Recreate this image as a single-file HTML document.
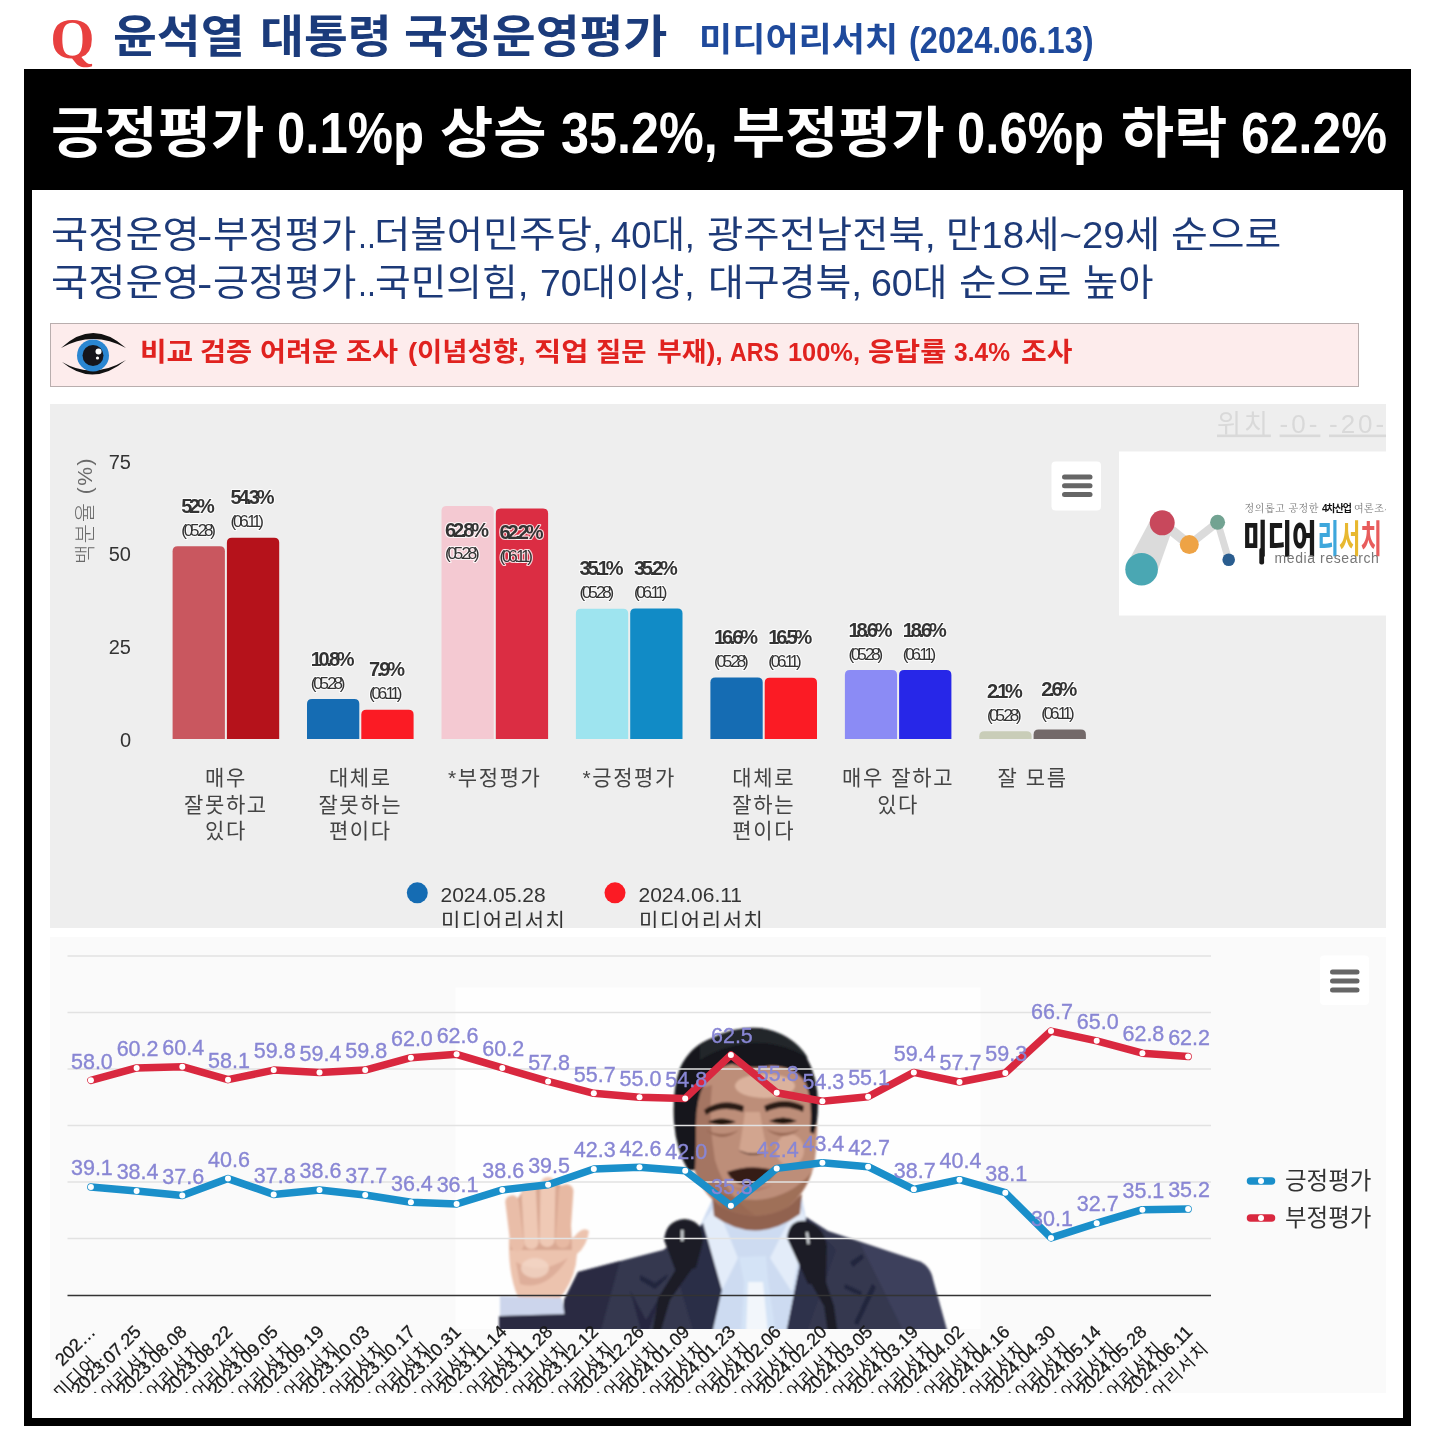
<!DOCTYPE html><html lang='ko'><head><meta charset='utf-8'><title>윤석열 대통령 국정운영평가</title><style>
html,body{margin:0;padding:0;background:#fff;}
body{width:1435px;height:1446px;position:relative;overflow:hidden;font-family:"Liberation Sans","Noto Sans CJK KR",sans-serif;}
.abs{position:absolute;white-space:nowrap;}
.w{position:absolute;top:0;transform-origin:0 0;white-space:nowrap;}
#frame{left:24px;top:69px;width:1387px;height:1357px;background:#000;}
#inner{left:32px;top:190px;width:1371px;height:1228px;background:#fff;}
#q{left:50.2px;top:8.5px;font-family:"Liberation Serif",serif;font-weight:700;font-size:57px;line-height:60px;color:#e8403f;}
#notice{left:50px;top:323px;width:1307px;height:62px;background:#fdecec;border:1px solid #b9aeae;}
#barpanel{left:50px;top:404px;width:1336px;height:524px;background:#eeeeee;overflow:hidden;}
#linepanel{left:50px;top:937px;width:1336px;height:456px;background:#fafafa;overflow:hidden;}
svg text{font-family:"Liberation Sans","Noto Sans CJK KR",sans-serif;}
</style></head><body>
<div id='frame' class='abs'></div><div id='inner' class='abs'></div>
<div id='q' class='abs'>Q</div>
<div id='title' class='abs' style='left:0;top:8.0px;width:1435px;font-family:"Liberation Sans","Noto Sans CJK KR",sans-serif;font-weight:700;font-size:45px;line-height:60px;color:#1b3b7b'><span class='w' style='left:113.18px;transform:scaleX(1.0588)'>윤석열</span> <span class='w' style='left:259.62px;transform:scaleX(1.0598)'>대통령</span> <span class='w' style='left:404.18px;transform:scaleX(1.06)'>국정운영평가</span></div>
<div id='src' class='abs' style='left:0;top:15.4px;width:1435px;font-family:"Liberation Sans","Noto Sans CJK KR",sans-serif;font-weight:700;font-size:33px;line-height:50px;color:#1f4a9c'><span class='w' style='left:699.12px;transform:scaleX(1.0932)'>미디어리서치</span> <span class='w' style='left:909.14px;font-size:37px;top:0.8px;transform:scaleX(0.8801)'>(2024.06.13)</span></div>
<div id='head' class='abs' style='left:0;top:92.5px;width:1435px;font-family:"Liberation Sans","Noto Sans CJK KR",sans-serif;font-weight:700;font-size:55px;line-height:80px;color:#fff'><span class='w' style='left:50.89px;transform:scaleX(1.0543)'>긍정평가</span> <span class='w' style='left:276.54px;font-size:58px;top:0.5px;transform:scaleX(0.8779)'>0.1%p</span> <span class='w' style='left:440.09px;transform:scaleX(1.0526)'>상승</span> <span class='w' style='left:561.37px;font-size:58px;top:0.5px;transform:scaleX(0.8674)'>35.2%,</span> <span class='w' style='left:731.7px;transform:scaleX(1.0503)'>부정평가</span> <span class='w' style='left:956.54px;font-size:58px;top:0.5px;transform:scaleX(0.8779)'>0.6%p</span> <span class='w' style='left:1120.6px;transform:scaleX(1.05)'>하락</span> <span class='w' style='left:1241.32px;font-size:58px;top:0.5px;transform:scaleX(0.8882)'>62.2%</span></div>
<div id='sub1' class='abs' style='left:0;top:208.1px;width:1435px;font-family:"Liberation Sans","Noto Sans CJK KR",sans-serif;font-weight:400;font-size:37px;line-height:56px;color:#1d3a78'><span class='w' style='left:50.61px;transform:scaleX(1.093)'>국정운영</span><span class='w' style='left:196.81px;transform:scaleX(1.2444)'>-</span><span class='w' style='left:213.49px;transform:scaleX(1.0534)'>부정평가</span><span class='w' style='left:357.89px;transform:scaleX(0.8714)'>..</span><span class='w' style='left:374.0px;transform:scaleX(1.0673)'>더불어민주당,</span> <span class='w' style='left:611.02px;transform:scaleX(0.9815)'>40대,</span> <span class='w' style='left:707.07px;transform:scaleX(1.066)'>광주전남전북,</span> <span class='w' style='left:945.88px;transform:scaleX(1.0387)'>만18세~29세</span> <span class='w' style='left:1171.14px;transform:scaleX(1.0796)'>순으로</span></div>
<div id='sub2' class='abs' style='left:0;top:256.2px;width:1435px;font-family:"Liberation Sans","Noto Sans CJK KR",sans-serif;font-weight:400;font-size:37px;line-height:56px;color:#1d3a78'><span class='w' style='left:50.61px;transform:scaleX(1.093)'>국정운영</span><span class='w' style='left:196.81px;transform:scaleX(1.2444)'>-</span><span class='w' style='left:213.49px;transform:scaleX(1.0534)'>긍정평가</span><span class='w' style='left:357.89px;transform:scaleX(0.8714)'>..</span><span class='w' style='left:375.1px;transform:scaleX(1.0475)'>국민의힘,</span> <span class='w' style='left:540.49px;transform:scaleX(1.0068)'>70대이상,</span> <span class='w' style='left:707.64px;transform:scaleX(1.0529)'>대구경북,</span> <span class='w' style='left:871.17px;transform:scaleX(1.0143)'>60대</span> <span class='w' style='left:959.0px;transform:scaleX(1.102)'>순으로</span> <span class='w' style='left:1083.13px;transform:scaleX(1.0354)'>높아</span></div>
<div id='notice' class='abs'></div>
<svg class='abs' style='left:58px;top:330px' width='72' height='50' viewBox='58 330 72 50'>
<path d='M61 348 Q93 318 126 348 Q93 330 61 348Z' fill='#111'/>
<path d='M62 362 Q93 388 126 360 Q93 380 62 362Z' fill='#111'/>
<circle cx='93' cy='355.5' r='16' fill='#2a86d1'/>
<circle cx='93' cy='355.5' r='10.5' fill='#16161c'/>
<circle cx='98.5' cy='351.5' r='3' fill='#fff'/>
<circle cx='97.5' cy='358' r='1.6' fill='#fff'/>
</svg>
<div id='ntext' class='abs' style='left:0;top:332px;width:1435px;font-family:"Liberation Sans","Noto Sans CJK KR",sans-serif;font-weight:700;font-size:26.5px;line-height:40px;color:#e0221f'><span class='w' style='left:139.52px;transform:scaleX(1.0913)'>비교</span> <span class='w' style='left:199.76px;transform:scaleX(1.0696)'>검증</span> <span class='w' style='left:260.04px;transform:scaleX(1.0648)'>어려운</span> <span class='w' style='left:346.33px;transform:scaleX(1.0681)'>조사</span> <span class='w' style='left:408.27px;transform:scaleX(1.0333)'>(이념성향,</span> <span class='w' style='left:534.17px;transform:scaleX(1.1159)'>직업</span> <span class='w' style='left:595.96px;transform:scaleX(1.0362)'>질문</span> <span class='w' style='left:656.89px;transform:scaleX(1.0129)'>부재),</span> <span class='w' style='left:730.23px;transform:scaleX(0.8722)'>ARS</span> <span class='w' style='left:788.38px;transform:scaleX(0.9577)'>100%,</span> <span class='w' style='left:867.63px;transform:scaleX(1.0704)'>응답률</span> <span class='w' style='left:954.27px;transform:scaleX(0.9271)'>3.4%</span> <span class='w' style='left:1020.95px;transform:scaleX(1.0532)'>조사</span></div>
<svg class='abs' id='barsvg' style='left:50px;top:404px' width='1336' height='524' viewBox='50 404 1336 524'>
<rect x='50' y='404' width='1336' height='524' fill='#eeeeee'/>
<text x='1217' y='432.5' font-size='26' fill='#d9d9d9' text-decoration='underline' style='letter-spacing:3px'>위치</text>
<text x='1279.6' y='432.5' font-size='26' fill='#d9d9d9' text-decoration='underline' style='letter-spacing:3px'>-0-</text>
<text x='1329' y='432.5' font-size='26' fill='#d9d9d9' text-decoration='underline' style='letter-spacing:3px'>-20-</text>
<text x='131' y='746.6' text-anchor='end' font-size='20' fill='#333'>0</text>
<text x='131' y='653.9' text-anchor='end' font-size='20' fill='#333'>25</text>
<text x='131' y='561.2' text-anchor='end' font-size='20' fill='#333'>50</text>
<text x='131' y='468.5' text-anchor='end' font-size='20' fill='#333'>75</text>
<text transform='translate(91.5,510.5) rotate(-90)' text-anchor='middle' font-size='21' font-weight='300' fill='#6a6a6a' style='letter-spacing:1.5px'>백분율 (%)</text>
<path d='M172.6 739.0 V551.2 Q172.6 546.2 177.6 546.2 H219.9 Q224.9 546.2 224.9 551.2 V739.0 Z' fill='#c9575f'/>
<path d='M226.9 739.0 V542.7 Q226.9 537.7 231.9 537.7 H274.2 Q279.2 537.7 279.2 542.7 V739.0 Z' fill='#b5121b'/>
<text x='225.9' y='785.3' text-anchor='middle' font-size='21' font-weight='400' fill='#444' style='letter-spacing:1.6px'>매우</text>
<text x='225.9' y='811.8' text-anchor='middle' font-size='21' font-weight='400' fill='#444' style='letter-spacing:1.6px'>잘못하고</text>
<text x='225.9' y='838.3' text-anchor='middle' font-size='21' font-weight='400' fill='#444' style='letter-spacing:1.6px'>있다</text>
<path d='M307.0 739.0 V704.0 Q307.0 699.0 312.0 699.0 H354.3 Q359.3 699.0 359.3 704.0 V739.0 Z' fill='#156cb3'/>
<path d='M361.3 739.0 V714.7 Q361.3 709.7 366.3 709.7 H408.6 Q413.6 709.7 413.6 714.7 V739.0 Z' fill='#fb1b24'/>
<text x='360.3' y='785.3' text-anchor='middle' font-size='21' font-weight='400' fill='#444' style='letter-spacing:1.6px'>대체로</text>
<text x='360.3' y='811.8' text-anchor='middle' font-size='21' font-weight='400' fill='#444' style='letter-spacing:1.6px'>잘못하는</text>
<text x='360.3' y='838.3' text-anchor='middle' font-size='21' font-weight='400' fill='#444' style='letter-spacing:1.6px'>편이다</text>
<path d='M441.5 739.0 V511.1 Q441.5 506.1 446.5 506.1 H488.8 Q493.8 506.1 493.8 511.1 V739.0 Z' fill='#f4c9d2'/>
<path d='M495.8 739.0 V513.4 Q495.8 508.4 500.8 508.4 H543.1 Q548.1 508.4 548.1 513.4 V739.0 Z' fill='#db2d43'/>
<text x='494.8' y='785.3' text-anchor='middle' font-size='21' font-weight='400' fill='#444' style='letter-spacing:1.6px'>*부정평가</text>
<path d='M575.9 739.0 V613.8 Q575.9 608.8 580.9 608.8 H623.2 Q628.2 608.8 628.2 613.8 V739.0 Z' fill='#9ee4ef'/>
<path d='M630.2 739.0 V613.5 Q630.2 608.5 635.2 608.5 H677.5 Q682.5 608.5 682.5 613.5 V739.0 Z' fill='#118bc6'/>
<text x='629.2' y='785.3' text-anchor='middle' font-size='21' font-weight='400' fill='#444' style='letter-spacing:1.6px'>*긍정평가</text>
<path d='M710.4 739.0 V682.4 Q710.4 677.4 715.4 677.4 H757.7 Q762.7 677.4 762.7 682.4 V739.0 Z' fill='#156cb3'/>
<path d='M764.7 739.0 V682.8 Q764.7 677.8 769.7 677.8 H812.0 Q817.0 677.8 817.0 682.8 V739.0 Z' fill='#fb1b24'/>
<text x='763.7' y='785.3' text-anchor='middle' font-size='21' font-weight='400' fill='#444' style='letter-spacing:1.6px'>대체로</text>
<text x='763.7' y='811.8' text-anchor='middle' font-size='21' font-weight='400' fill='#444' style='letter-spacing:1.6px'>잘하는</text>
<text x='763.7' y='838.3' text-anchor='middle' font-size='21' font-weight='400' fill='#444' style='letter-spacing:1.6px'>편이다</text>
<path d='M844.9 739.0 V675.0 Q844.9 670.0 849.9 670.0 H892.1 Q897.1 670.0 897.1 675.0 V739.0 Z' fill='#8b8bf5'/>
<path d='M899.1 739.0 V675.0 Q899.1 670.0 904.1 670.0 H946.4 Q951.4 670.0 951.4 675.0 V739.0 Z' fill='#2727e8'/>
<text x='898.1' y='785.3' text-anchor='middle' font-size='21' font-weight='400' fill='#444' style='letter-spacing:1.6px'>매우 잘하고</text>
<text x='898.1' y='811.8' text-anchor='middle' font-size='21' font-weight='400' fill='#444' style='letter-spacing:1.6px'>있다</text>
<path d='M979.3 739.0 V736.2 Q979.3 731.2 984.3 731.2 H1026.6 Q1031.6 731.2 1031.6 736.2 V739.0 Z' fill='#c9cdb8'/>
<path d='M1033.6 739.0 V734.4 Q1033.6 729.4 1038.6 729.4 H1080.9 Q1085.9 729.4 1085.9 734.4 V739.0 Z' fill='#736969'/>
<text x='1032.6' y='785.3' text-anchor='middle' font-size='21' font-weight='400' fill='#444' style='letter-spacing:1.6px'>잘 모름</text>
<text x='181.2' y='512.7' font-size='20' font-weight='700' fill='#333' stroke='#fff' stroke-opacity='0.8' stroke-width='2.2' stroke-linejoin='round' paint-order='stroke' style='letter-spacing:-3.2px'>52%</text><text x='181.2' y='535.8' font-size='17' fill='#333' stroke='#fff' stroke-opacity='0.8' stroke-width='2.2' stroke-linejoin='round' paint-order='stroke' style='letter-spacing:-3.2px'>(05.28)</text>
<text x='230.5' y='504.2' font-size='20' font-weight='700' fill='#333' stroke='#fff' stroke-opacity='0.8' stroke-width='2.2' stroke-linejoin='round' paint-order='stroke' style='letter-spacing:-3.2px'>54.3%</text><text x='230.5' y='527.3' font-size='17' fill='#333' stroke='#fff' stroke-opacity='0.8' stroke-width='2.2' stroke-linejoin='round' paint-order='stroke' style='letter-spacing:-3.2px'>(06.11)</text>
<text x='310.7' y='665.5' font-size='20' font-weight='700' fill='#333' stroke='#fff' stroke-opacity='0.8' stroke-width='2.2' stroke-linejoin='round' paint-order='stroke' style='letter-spacing:-3.2px'>10.8%</text><text x='310.7' y='688.6' font-size='17' fill='#333' stroke='#fff' stroke-opacity='0.8' stroke-width='2.2' stroke-linejoin='round' paint-order='stroke' style='letter-spacing:-3.2px'>(05.28)</text>
<text x='369.0' y='676.2' font-size='20' font-weight='700' fill='#333' stroke='#fff' stroke-opacity='0.8' stroke-width='2.2' stroke-linejoin='round' paint-order='stroke' style='letter-spacing:-3.2px'>7.9%</text><text x='369.0' y='699.3' font-size='17' fill='#333' stroke='#fff' stroke-opacity='0.8' stroke-width='2.2' stroke-linejoin='round' paint-order='stroke' style='letter-spacing:-3.2px'>(06.11)</text>
<text x='445.1' y='536.8' font-size='20' font-weight='700' fill='#333' stroke='#fff' stroke-opacity='0.8' stroke-width='2.2' stroke-linejoin='round' paint-order='stroke' style='letter-spacing:-3.2px'>62.8%</text><text x='445.1' y='559.3' font-size='17' fill='#333' stroke='#fff' stroke-opacity='0.8' stroke-width='2.2' stroke-linejoin='round' paint-order='stroke' style='letter-spacing:-3.2px'>(05.28)</text>
<text x='499.5' y='539.1' font-size='20' font-weight='700' fill='#333' stroke='#fff' stroke-opacity='0.8' stroke-width='2.2' stroke-linejoin='round' paint-order='stroke' style='letter-spacing:-3.2px'>62.2%</text><text x='499.5' y='561.6' font-size='17' fill='#333' stroke='#fff' stroke-opacity='0.8' stroke-width='2.2' stroke-linejoin='round' paint-order='stroke' style='letter-spacing:-3.2px'>(06.11)</text>
<text x='579.6' y='575.3' font-size='20' font-weight='700' fill='#333' stroke='#fff' stroke-opacity='0.8' stroke-width='2.2' stroke-linejoin='round' paint-order='stroke' style='letter-spacing:-3.2px'>35.1%</text><text x='579.6' y='598.4' font-size='17' fill='#333' stroke='#fff' stroke-opacity='0.8' stroke-width='2.2' stroke-linejoin='round' paint-order='stroke' style='letter-spacing:-3.2px'>(05.28)</text>
<text x='633.9' y='575.0' font-size='20' font-weight='700' fill='#333' stroke='#fff' stroke-opacity='0.8' stroke-width='2.2' stroke-linejoin='round' paint-order='stroke' style='letter-spacing:-3.2px'>35.2%</text><text x='633.9' y='598.1' font-size='17' fill='#333' stroke='#fff' stroke-opacity='0.8' stroke-width='2.2' stroke-linejoin='round' paint-order='stroke' style='letter-spacing:-3.2px'>(06.11)</text>
<text x='714.0' y='643.9' font-size='20' font-weight='700' fill='#333' stroke='#fff' stroke-opacity='0.8' stroke-width='2.2' stroke-linejoin='round' paint-order='stroke' style='letter-spacing:-3.2px'>16.6%</text><text x='714.0' y='667.0' font-size='17' fill='#333' stroke='#fff' stroke-opacity='0.8' stroke-width='2.2' stroke-linejoin='round' paint-order='stroke' style='letter-spacing:-3.2px'>(05.28)</text>
<text x='768.3' y='644.3' font-size='20' font-weight='700' fill='#333' stroke='#fff' stroke-opacity='0.8' stroke-width='2.2' stroke-linejoin='round' paint-order='stroke' style='letter-spacing:-3.2px'>16.5%</text><text x='768.3' y='667.4' font-size='17' fill='#333' stroke='#fff' stroke-opacity='0.8' stroke-width='2.2' stroke-linejoin='round' paint-order='stroke' style='letter-spacing:-3.2px'>(06.11)</text>
<text x='848.5' y='636.5' font-size='20' font-weight='700' fill='#333' stroke='#fff' stroke-opacity='0.8' stroke-width='2.2' stroke-linejoin='round' paint-order='stroke' style='letter-spacing:-3.2px'>18.6%</text><text x='848.5' y='659.6' font-size='17' fill='#333' stroke='#fff' stroke-opacity='0.8' stroke-width='2.2' stroke-linejoin='round' paint-order='stroke' style='letter-spacing:-3.2px'>(05.28)</text>
<text x='902.8' y='636.5' font-size='20' font-weight='700' fill='#333' stroke='#fff' stroke-opacity='0.8' stroke-width='2.2' stroke-linejoin='round' paint-order='stroke' style='letter-spacing:-3.2px'>18.6%</text><text x='902.8' y='659.6' font-size='17' fill='#333' stroke='#fff' stroke-opacity='0.8' stroke-width='2.2' stroke-linejoin='round' paint-order='stroke' style='letter-spacing:-3.2px'>(06.11)</text>
<text x='986.9' y='697.7' font-size='20' font-weight='700' fill='#333' stroke='#fff' stroke-opacity='0.8' stroke-width='2.2' stroke-linejoin='round' paint-order='stroke' style='letter-spacing:-3.2px'>2.1%</text><text x='986.9' y='720.8' font-size='17' fill='#333' stroke='#fff' stroke-opacity='0.8' stroke-width='2.2' stroke-linejoin='round' paint-order='stroke' style='letter-spacing:-3.2px'>(05.28)</text>
<text x='1041.2' y='695.9' font-size='20' font-weight='700' fill='#333' stroke='#fff' stroke-opacity='0.8' stroke-width='2.2' stroke-linejoin='round' paint-order='stroke' style='letter-spacing:-3.2px'>2.6%</text><text x='1041.2' y='719.0' font-size='17' fill='#333' stroke='#fff' stroke-opacity='0.8' stroke-width='2.2' stroke-linejoin='round' paint-order='stroke' style='letter-spacing:-3.2px'>(06.11)</text>
<circle cx='417.3' cy='892.8' r='10.5' fill='#156cb3'/><circle cx='615' cy='892.8' r='10.5' fill='#fb1b24'/>
<text x='440.5' y='902' font-size='21' fill='#333'>2024.05.28</text>
<text x='441.0' y='927.5' font-size='21' font-weight='400' fill='#333' style='letter-spacing:1.6px'>미디어리서치</text>
<text x='638.5' y='902' font-size='21' fill='#333'>2024.06.11</text>
<text x='639.0' y='927.5' font-size='21' font-weight='400' fill='#333' style='letter-spacing:1.6px'>미디어리서치</text>
<rect x='1051.5' y='461.5' width='49.5' height='49' rx='4' fill='#fff'/>
<line x1='1064.5' x2='1090' y1='477' y2='477' stroke='#666' stroke-width='5' stroke-linecap='round'/>
<line x1='1064.5' x2='1090' y1='485.7' y2='485.7' stroke='#666' stroke-width='5' stroke-linecap='round'/>
<line x1='1064.5' x2='1090' y1='494.4' y2='494.4' stroke='#666' stroke-width='5' stroke-linecap='round'/>
<rect x='1119' y='451.5' width='267.5' height='164' fill='#fff'/>
<g>
<path d='M1151.5 518 L1127.5 563 L1155.5 577 L1172.5 529 Z' fill='#dbdbdb'/>
<line x1='1162.2' y1='522.8' x2='1189.3' y2='544.6' stroke='#dbdbdb' stroke-width='10'/>
<line x1='1189.3' y1='544.6' x2='1217.6' y2='522.3' stroke='#dbdbdb' stroke-width='8'/>
<line x1='1217.6' y1='522.3' x2='1228.7' y2='559.7' stroke='#dbdbdb' stroke-width='7'/>
<circle cx='1162.2' cy='522.8' r='12.5' fill='#c8485c'/>
<circle cx='1141.6' cy='569.2' r='16.3' fill='#4aa7b3'/>
<circle cx='1189.3' cy='544.6' r='9.5' fill='#eea345'/>
<circle cx='1217.6' cy='522.3' r='7.5' fill='#72a392'/>
<circle cx='1228.7' cy='559.7' r='6.3' fill='#2a5d8f'/>
<text x='1244.5' y='512.3' font-size='10' fill='#777' style='font-family:"Liberation Serif","Noto Serif CJK SC","Noto Sans CJK KR",serif;letter-spacing:0.55px'>정의롭고 공정한 <tspan font-weight='700' fill='#111' style='font-family:"Liberation Sans","Noto Sans CJK KR",sans-serif;letter-spacing:-1.1px'>4차산업</tspan> 여론조사</text>
<text x='1243' y='552' font-size='38' font-weight='900' fill='#1a1a1a' textLength='73.5' lengthAdjust='spacingAndGlyphs'>미디어</text>
<text x='1317.5' y='552' font-size='38' font-weight='700' textLength='64.5' lengthAdjust='spacingAndGlyphs'><tspan fill='#3ea7dc'>리</tspan><tspan fill='#e8b830'>서</tspan><tspan fill='#e85c5c'>치</tspan></text>
<rect x='1259.3' y='548' width='4.8' height='16.5' rx='2' fill='#1a1a1a'/>
<text x='1274.5' y='562.5' font-size='14' fill='#777' style='letter-spacing:0.6px'>media research</text>
</g>
</svg>
<svg class='abs' id='linesvg' style='left:50px;top:937px' width='1336' height='456' viewBox='50 937 1336 456'>
<defs><filter id='bl2'><feGaussianBlur stdDeviation='2'/></filter><filter id='bl4'><feGaussianBlur stdDeviation='4'/></filter><filter id='bl1'><feGaussianBlur stdDeviation='1'/></filter></defs>
<rect x='50' y='937' width='1336' height='456' fill='#fafafa'/>
<g id="photo">
<clipPath id="pc"><rect x="455.5" y="987.5" width="525" height="341.5"/></clipPath>
<rect x="455.5" y="987.5" width="525" height="341.5" fill="#fefefe"/>
<g clip-path="url(#pc)">
<g filter="url(#bl1)">
 <!-- suit -->
 <path d="M561 1334 L564 1300 L578 1272 L663 1250 L703 1223 L756 1268 L806 1217 L828 1231 L921 1262 Q931 1268 933 1280 L948 1334 Z" fill="#34374f"/>
 <path d="M561 1334 L564 1300 L578 1272 L620 1261 L600 1334 Z" fill="#2a2c42"/>
 <path d="M860 1243 L921 1262 Q931 1268 933 1280 L948 1334 L905 1334 Z" fill="#3d405c"/>
 <path d="M640 1275 L655 1283 L668 1274 L666 1279 L655 1289 L640 1280 Z" fill="#23253c"/>
 <path d="M630 1290 L646 1320 L660 1296 L648 1334 L642 1334 Z" fill="#262840"/>
 <path d="M850 1262 L862 1254 L864 1258 L853 1267 Z M845 1284 L862 1292 L861 1296 L844 1288 Z" fill="#23253c"/>
 <path d="M872 1284 L876 1287 L858 1325 L854 1323 Z" fill="#23253c"/>
 <!-- shirt -->
 <path d="M700 1226 L712 1200 L802 1198 L806 1219 L800 1264 L786 1334 L711 1334 Z" fill="#cddbf1"/>
 <path d="M700 1226 L716 1204 L738 1258 L722 1290 Z" fill="#e3ecf9"/>
 <path d="M806 1219 L798 1202 L770 1258 L792 1292 Z" fill="#e3ecf9"/>
 <!-- tie -->
 <path d="M739 1257 L766 1256 L768 1280 L776 1334 L741 1334 L744 1282 Z" fill="#d4e3f6"/>
 <path d="M748 1282 L763 1282 L768 1334 L746 1334 Z" fill="#f2f6fb"/>
 <!-- lapels -->
 <path d="M703 1223 L722 1290 L712 1334 L694 1334 L672 1258 Z" fill="#2b2d47"/>
 <path d="M806 1217 L800 1264 L786 1334 L806 1334 L836 1250 Z" fill="#2e304b"/>
 <!-- neck shadow -->
 <path d="M712 1196 Q756 1232 802 1194 L800 1214 Q756 1246 714 1216 Z" fill="#91624f"/>
 <!-- face -->
 <path d="M689 1098 Q686 1135 693 1165 Q700 1192 722 1207 Q756 1224 788 1207 Q810 1190 815 1160 Q820 1125 814 1092 Q806 1062 756 1058 Q700 1060 689 1098 Z" fill="#bd8e79"/>
 <path d="M689 1098 Q686 1135 693 1165 Q700 1192 722 1207 Q740 1216 756 1216 Q725 1195 715 1160 Q708 1120 712 1085 Q696 1088 689 1098 Z" fill="#9d6f5c" opacity="0.8"/>
 <path d="M722 1207 Q756 1224 788 1207 Q805 1192 812 1172 Q790 1198 756 1200 Q735 1200 715 1190 Z" fill="#96654f" opacity="0.75"/>
 <ellipse cx="765" cy="1086" rx="30" ry="12" fill="#e2bba6" opacity="0.8"/>
 <ellipse cx="790" cy="1150" rx="14" ry="16" fill="#ddb19b" opacity="0.7"/>
 <!-- brows & eyes -->
 <path d="M704 1110 Q722 1097 744 1106 L743 1112 Q722 1105 706 1115 Z" fill="#2c1d19"/>
 <path d="M764 1106 Q784 1096 804 1106 L803 1112 Q784 1103 766 1112 Z" fill="#2c1d19"/>
 <path d="M708 1122 Q721 1115 736 1122 Q721 1128 708 1122 Z" fill="#22140f"/>
 <path d="M769 1121 Q783 1114 797 1121 Q783 1127 769 1121 Z" fill="#22140f"/>
 <path d="M706 1130 Q722 1138 739 1130 Q722 1144 706 1130 Z" fill="#93634f" opacity="0.85"/>
 <path d="M766 1129 Q783 1137 800 1129 Q783 1143 766 1129 Z" fill="#93634f" opacity="0.85"/>
 <!-- nose -->
 <path d="M745 1112 Q741 1140 739 1150 Q753 1160 768 1150 Q764 1140 760 1112 Z" fill="#d7ab95" opacity="0.8"/>
 <path d="M738 1150 Q753 1160 769 1150 Q754 1157 738 1150 Z" fill="#51302a"/>
 <!-- mouth -->
 <path d="M727 1172 Q752 1163 775 1171 Q769 1185 750 1186 Q733 1185 727 1172 Z" fill="#341b19"/>
 <path d="M731 1187 Q752 1197 773 1185 Q754 1191 731 1187 Z" fill="#b07c6a"/>
 <!-- hair -->
 <path d="M688 1170 Q676 1150 674 1122 Q672 1090 680 1068 Q690 1046 712 1038 Q735 1026 760 1028 Q790 1032 806 1056 Q818 1078 818 1104 Q818 1122 814 1134 L810 1132 Q813 1102 806 1084 Q796 1066 770 1066 Q750 1070 732 1064 Q712 1068 704 1084 Q696 1100 696 1124 Q696 1150 695 1170 Z" fill="#15181b"/>
 <path d="M700 1046 Q725 1028 758 1029 Q792 1032 808 1058 Q780 1041 750 1043 Q722 1046 700 1060 Z" fill="#22262a"/>
 <!-- mics -->
 <path d="M664 1240 Q666 1220 685 1219 Q704 1221 703 1242 L696 1268 L676 1272 Z" fill="#1c1f26"/>
 <path d="M678 1266 L694 1266 L670 1300 L660 1334 L652 1334 L658 1298 Z" fill="#1c1f26"/>
 <path d="M787 1238 Q789 1219 806 1221 Q824 1226 827 1246 L826 1284 L808 1284 Z" fill="#1c1f26"/>
 <path d="M809 1280 L825 1279 L834 1306 L838 1334 L828 1334 L824 1306 Z" fill="#1c1f26"/>
 <rect x="681" y="1230" width="2.5" height="11" fill="#cfd3d8"/>
 <rect x="806.5" y="1232" width="2.5" height="12" fill="#cfd3d8" transform="rotate(-8 808 1238)"/>
 <!-- cuff + sleeve -->
 <path d="M500 1296 L562 1298 L565 1318 L500 1320 Z" fill="#ccd5ec"/>
 <path d="M499 1316 L566 1314 L564 1334 L499 1334 Z" fill="#2a2c42"/>
 <!-- hand -->
 <path d="M509 1238 Q508 1275 518 1297 L560 1298 Q576 1278 577 1254 Q587 1246 589 1231 Q583 1226 575 1236 L570 1240 Z" fill="#ecc3ae"/>
 <path d="M513 1205 L522 1192 L536 1184 L548 1180 L562 1186 L570 1200 L572 1250 L510 1250 Z" fill="#d9a893"/>
 <rect x="510" y="1195" width="13.5" height="56" rx="6.5" fill="#e9bda8" transform="rotate(-7 517 1240)"/>
 <rect x="524" y="1183" width="14.5" height="66" rx="7" fill="#efc9b5" transform="rotate(-3 531 1240)"/>
 <rect x="539.5" y="1177" width="15" height="70" rx="7" fill="#efc9b5" transform="rotate(1 547 1240)"/>
 <rect x="555.5" y="1184" width="14.5" height="64" rx="7" fill="#e7b9a3" transform="rotate(4 562 1240)"/>
 <path d="M516 1262 Q540 1276 568 1258 Q546 1292 520 1284 Z" fill="#d9a591" opacity="0.7"/>
 <ellipse cx="535" cy="1268" rx="14" ry="10" fill="#f5dacb" opacity="0.7"/>
</g>
</g>
</g>

<line x1='67.5' x2='1211' y1='956' y2='956' stroke='#e2e2e2' stroke-width='1.6'/>
<line x1='67.5' x2='1211' y1='1012.5' y2='1012.5' stroke='#e2e2e2' stroke-width='1.6'/>
<line x1='67.5' x2='1211' y1='1069' y2='1069' stroke='#e2e2e2' stroke-width='1.6'/>
<line x1='67.5' x2='1211' y1='1125.5' y2='1125.5' stroke='#e2e2e2' stroke-width='1.6'/>
<line x1='67.5' x2='1211' y1='1182' y2='1182' stroke='#e2e2e2' stroke-width='1.6'/>
<line x1='67.5' x2='1211' y1='1238.5' y2='1238.5' stroke='#e2e2e2' stroke-width='1.6'/>
<line x1='67.5' x2='1211' y1='1295.5' y2='1295.5' stroke='#333' stroke-width='1.6'/>
<polyline points='90.9,1187.1 136.6,1191.0 182.3,1195.6 228.0,1178.6 273.7,1194.4 319.5,1189.9 365.2,1195.0 410.9,1202.3 456.6,1204.0 502.3,1189.9 548.1,1184.8 593.8,1169.0 639.5,1167.3 685.2,1170.7 730.9,1205.7 776.7,1168.4 822.4,1162.8 868.1,1166.7 913.8,1189.3 959.5,1179.7 1005.3,1192.7 1051.0,1237.9 1096.7,1223.2 1142.4,1209.7 1188.1,1209.1' fill='none' stroke='#1a8fca' stroke-width='7.5' stroke-linejoin='round' stroke-linecap='round'/>
<circle cx='90.9' cy='1187.1' r='3' fill='#fff'/>
<circle cx='136.6' cy='1191.0' r='3' fill='#fff'/>
<circle cx='182.3' cy='1195.6' r='3' fill='#fff'/>
<circle cx='228.0' cy='1178.6' r='3' fill='#fff'/>
<circle cx='273.7' cy='1194.4' r='3' fill='#fff'/>
<circle cx='319.5' cy='1189.9' r='3' fill='#fff'/>
<circle cx='365.2' cy='1195.0' r='3' fill='#fff'/>
<circle cx='410.9' cy='1202.3' r='3' fill='#fff'/>
<circle cx='456.6' cy='1204.0' r='3' fill='#fff'/>
<circle cx='502.3' cy='1189.9' r='3' fill='#fff'/>
<circle cx='548.1' cy='1184.8' r='3' fill='#fff'/>
<circle cx='593.8' cy='1169.0' r='3' fill='#fff'/>
<circle cx='639.5' cy='1167.3' r='3' fill='#fff'/>
<circle cx='685.2' cy='1170.7' r='3' fill='#fff'/>
<circle cx='730.9' cy='1205.7' r='3' fill='#fff'/>
<circle cx='776.7' cy='1168.4' r='3' fill='#fff'/>
<circle cx='822.4' cy='1162.8' r='3' fill='#fff'/>
<circle cx='868.1' cy='1166.7' r='3' fill='#fff'/>
<circle cx='913.8' cy='1189.3' r='3' fill='#fff'/>
<circle cx='959.5' cy='1179.7' r='3' fill='#fff'/>
<circle cx='1005.3' cy='1192.7' r='3' fill='#fff'/>
<circle cx='1051.0' cy='1237.9' r='3' fill='#fff'/>
<circle cx='1096.7' cy='1223.2' r='3' fill='#fff'/>
<circle cx='1142.4' cy='1209.7' r='3' fill='#fff'/>
<circle cx='1188.1' cy='1209.1' r='3' fill='#fff'/>
<polyline points='90.9,1080.3 136.6,1067.9 182.3,1066.7 228.0,1079.7 273.7,1070.1 319.5,1072.4 365.2,1070.1 410.9,1057.7 456.6,1054.3 502.3,1067.9 548.1,1081.4 593.8,1093.3 639.5,1097.2 685.2,1098.4 730.9,1054.9 776.7,1092.7 822.4,1101.2 868.1,1096.7 913.8,1072.4 959.5,1082.0 1005.3,1073.0 1051.0,1031.1 1096.7,1040.8 1142.4,1053.2 1188.1,1056.6' fill='none' stroke='#d9283f' stroke-width='7.5' stroke-linejoin='round' stroke-linecap='round'/>
<circle cx='90.9' cy='1080.3' r='3' fill='#fff'/>
<circle cx='136.6' cy='1067.9' r='3' fill='#fff'/>
<circle cx='182.3' cy='1066.7' r='3' fill='#fff'/>
<circle cx='228.0' cy='1079.7' r='3' fill='#fff'/>
<circle cx='273.7' cy='1070.1' r='3' fill='#fff'/>
<circle cx='319.5' cy='1072.4' r='3' fill='#fff'/>
<circle cx='365.2' cy='1070.1' r='3' fill='#fff'/>
<circle cx='410.9' cy='1057.7' r='3' fill='#fff'/>
<circle cx='456.6' cy='1054.3' r='3' fill='#fff'/>
<circle cx='502.3' cy='1067.9' r='3' fill='#fff'/>
<circle cx='548.1' cy='1081.4' r='3' fill='#fff'/>
<circle cx='593.8' cy='1093.3' r='3' fill='#fff'/>
<circle cx='639.5' cy='1097.2' r='3' fill='#fff'/>
<circle cx='685.2' cy='1098.4' r='3' fill='#fff'/>
<circle cx='730.9' cy='1054.9' r='3' fill='#fff'/>
<circle cx='776.7' cy='1092.7' r='3' fill='#fff'/>
<circle cx='822.4' cy='1101.2' r='3' fill='#fff'/>
<circle cx='868.1' cy='1096.7' r='3' fill='#fff'/>
<circle cx='913.8' cy='1072.4' r='3' fill='#fff'/>
<circle cx='959.5' cy='1082.0' r='3' fill='#fff'/>
<circle cx='1005.3' cy='1073.0' r='3' fill='#fff'/>
<circle cx='1051.0' cy='1031.1' r='3' fill='#fff'/>
<circle cx='1096.7' cy='1040.8' r='3' fill='#fff'/>
<circle cx='1142.4' cy='1053.2' r='3' fill='#fff'/>
<circle cx='1188.1' cy='1056.6' r='3' fill='#fff'/>
<text x='91.9' y='1175.3' text-anchor='middle' font-size='21.5' fill='#8886d4' stroke='#8886d4' stroke-width='0.35'>39.1</text>
<text x='137.6' y='1179.2' text-anchor='middle' font-size='21.5' fill='#8886d4' stroke='#8886d4' stroke-width='0.35'>38.4</text>
<text x='183.3' y='1183.8' text-anchor='middle' font-size='21.5' fill='#8886d4' stroke='#8886d4' stroke-width='0.35'>37.6</text>
<text x='229.0' y='1166.8' text-anchor='middle' font-size='21.5' fill='#8886d4' stroke='#8886d4' stroke-width='0.35'>40.6</text>
<text x='274.7' y='1182.6' text-anchor='middle' font-size='21.5' fill='#8886d4' stroke='#8886d4' stroke-width='0.35'>37.8</text>
<text x='320.5' y='1178.1' text-anchor='middle' font-size='21.5' fill='#8886d4' stroke='#8886d4' stroke-width='0.35'>38.6</text>
<text x='366.2' y='1183.2' text-anchor='middle' font-size='21.5' fill='#8886d4' stroke='#8886d4' stroke-width='0.35'>37.7</text>
<text x='411.9' y='1190.5' text-anchor='middle' font-size='21.5' fill='#8886d4' stroke='#8886d4' stroke-width='0.35'>36.4</text>
<text x='457.6' y='1192.2' text-anchor='middle' font-size='21.5' fill='#8886d4' stroke='#8886d4' stroke-width='0.35'>36.1</text>
<text x='503.3' y='1178.1' text-anchor='middle' font-size='21.5' fill='#8886d4' stroke='#8886d4' stroke-width='0.35'>38.6</text>
<text x='549.1' y='1173.0' text-anchor='middle' font-size='21.5' fill='#8886d4' stroke='#8886d4' stroke-width='0.35'>39.5</text>
<text x='594.8' y='1157.2' text-anchor='middle' font-size='21.5' fill='#8886d4' stroke='#8886d4' stroke-width='0.35'>42.3</text>
<text x='640.5' y='1155.5' text-anchor='middle' font-size='21.5' fill='#8886d4' stroke='#8886d4' stroke-width='0.35'>42.6</text>
<text x='686.2' y='1158.9' text-anchor='middle' font-size='21.5' fill='#8886d4' stroke='#8886d4' stroke-width='0.35'>42.0</text>
<text x='731.9' y='1193.9' text-anchor='middle' font-size='21.5' fill='#8886d4' stroke='#8886d4' stroke-width='0.35'>35.8</text>
<text x='777.7' y='1156.6' text-anchor='middle' font-size='21.5' fill='#8886d4' stroke='#8886d4' stroke-width='0.35'>42.4</text>
<text x='823.4' y='1151.0' text-anchor='middle' font-size='21.5' fill='#8886d4' stroke='#8886d4' stroke-width='0.35'>43.4</text>
<text x='869.1' y='1154.9' text-anchor='middle' font-size='21.5' fill='#8886d4' stroke='#8886d4' stroke-width='0.35'>42.7</text>
<text x='914.8' y='1177.5' text-anchor='middle' font-size='21.5' fill='#8886d4' stroke='#8886d4' stroke-width='0.35'>38.7</text>
<text x='960.5' y='1167.9' text-anchor='middle' font-size='21.5' fill='#8886d4' stroke='#8886d4' stroke-width='0.35'>40.4</text>
<text x='1006.3' y='1180.9' text-anchor='middle' font-size='21.5' fill='#8886d4' stroke='#8886d4' stroke-width='0.35'>38.1</text>
<text x='1052.0' y='1226.1' text-anchor='middle' font-size='21.5' fill='#8886d4' stroke='#8886d4' stroke-width='0.35'>30.1</text>
<text x='1097.7' y='1211.4' text-anchor='middle' font-size='21.5' fill='#8886d4' stroke='#8886d4' stroke-width='0.35'>32.7</text>
<text x='1143.4' y='1197.9' text-anchor='middle' font-size='21.5' fill='#8886d4' stroke='#8886d4' stroke-width='0.35'>35.1</text>
<text x='1189.1' y='1197.3' text-anchor='middle' font-size='21.5' fill='#8886d4' stroke='#8886d4' stroke-width='0.35'>35.2</text>
<text x='91.9' y='1068.5' text-anchor='middle' font-size='21.5' fill='#8886d4' stroke='#8886d4' stroke-width='0.35'>58.0</text>
<text x='137.6' y='1056.1' text-anchor='middle' font-size='21.5' fill='#8886d4' stroke='#8886d4' stroke-width='0.35'>60.2</text>
<text x='183.3' y='1054.9' text-anchor='middle' font-size='21.5' fill='#8886d4' stroke='#8886d4' stroke-width='0.35'>60.4</text>
<text x='229.0' y='1067.9' text-anchor='middle' font-size='21.5' fill='#8886d4' stroke='#8886d4' stroke-width='0.35'>58.1</text>
<text x='274.7' y='1058.3' text-anchor='middle' font-size='21.5' fill='#8886d4' stroke='#8886d4' stroke-width='0.35'>59.8</text>
<text x='320.5' y='1060.6' text-anchor='middle' font-size='21.5' fill='#8886d4' stroke='#8886d4' stroke-width='0.35'>59.4</text>
<text x='366.2' y='1058.3' text-anchor='middle' font-size='21.5' fill='#8886d4' stroke='#8886d4' stroke-width='0.35'>59.8</text>
<text x='411.9' y='1045.9' text-anchor='middle' font-size='21.5' fill='#8886d4' stroke='#8886d4' stroke-width='0.35'>62.0</text>
<text x='457.6' y='1042.5' text-anchor='middle' font-size='21.5' fill='#8886d4' stroke='#8886d4' stroke-width='0.35'>62.6</text>
<text x='503.3' y='1056.1' text-anchor='middle' font-size='21.5' fill='#8886d4' stroke='#8886d4' stroke-width='0.35'>60.2</text>
<text x='549.1' y='1069.6' text-anchor='middle' font-size='21.5' fill='#8886d4' stroke='#8886d4' stroke-width='0.35'>57.8</text>
<text x='594.8' y='1081.5' text-anchor='middle' font-size='21.5' fill='#8886d4' stroke='#8886d4' stroke-width='0.35'>55.7</text>
<text x='640.5' y='1085.5' text-anchor='middle' font-size='21.5' fill='#8886d4' stroke='#8886d4' stroke-width='0.35'>55.0</text>
<text x='686.2' y='1086.6' text-anchor='middle' font-size='21.5' fill='#8886d4' stroke='#8886d4' stroke-width='0.35'>54.8</text>
<text x='731.9' y='1043.1' text-anchor='middle' font-size='21.5' fill='#8886d4' stroke='#8886d4' stroke-width='0.35'>62.5</text>
<text x='777.7' y='1080.9' text-anchor='middle' font-size='21.5' fill='#8886d4' stroke='#8886d4' stroke-width='0.35'>55.8</text>
<text x='823.4' y='1089.4' text-anchor='middle' font-size='21.5' fill='#8886d4' stroke='#8886d4' stroke-width='0.35'>54.3</text>
<text x='869.1' y='1084.9' text-anchor='middle' font-size='21.5' fill='#8886d4' stroke='#8886d4' stroke-width='0.35'>55.1</text>
<text x='914.8' y='1060.6' text-anchor='middle' font-size='21.5' fill='#8886d4' stroke='#8886d4' stroke-width='0.35'>59.4</text>
<text x='960.5' y='1070.2' text-anchor='middle' font-size='21.5' fill='#8886d4' stroke='#8886d4' stroke-width='0.35'>57.7</text>
<text x='1006.3' y='1061.2' text-anchor='middle' font-size='21.5' fill='#8886d4' stroke='#8886d4' stroke-width='0.35'>59.3</text>
<text x='1052.0' y='1019.3' text-anchor='middle' font-size='21.5' fill='#8886d4' stroke='#8886d4' stroke-width='0.35'>66.7</text>
<text x='1097.7' y='1029.0' text-anchor='middle' font-size='21.5' fill='#8886d4' stroke='#8886d4' stroke-width='0.35'>65.0</text>
<text x='1143.4' y='1041.4' text-anchor='middle' font-size='21.5' fill='#8886d4' stroke='#8886d4' stroke-width='0.35'>62.8</text>
<text x='1189.1' y='1044.8' text-anchor='middle' font-size='21.5' fill='#8886d4' stroke='#8886d4' stroke-width='0.35'>62.2</text>
<g transform='translate(96.4,1333) rotate(-45)'><text x='0' y='0' text-anchor='end' font-size='18' fill='#1a1a1a' stroke='#1a1a1a' stroke-width='0.3'>202…</text><text x='0' y='23' text-anchor='end' font-size='18' fill='#1a1a1a' font-weight='400' style='letter-spacing:1.2px'>미디어…</text></g>
<g transform='translate(142.1,1333) rotate(-45)'><text x='0' y='0' text-anchor='end' font-size='18' fill='#1a1a1a' stroke='#1a1a1a' stroke-width='0.3'>2023.07.25</text><text x='0' y='23' text-anchor='end' font-size='18' fill='#1a1a1a' font-weight='400' style='letter-spacing:1.2px'>미디어리서치</text></g>
<g transform='translate(187.8,1333) rotate(-45)'><text x='0' y='0' text-anchor='end' font-size='18' fill='#1a1a1a' stroke='#1a1a1a' stroke-width='0.3'>2023.08.08</text><text x='0' y='23' text-anchor='end' font-size='18' fill='#1a1a1a' font-weight='400' style='letter-spacing:1.2px'>미디어리서치</text></g>
<g transform='translate(233.5,1333) rotate(-45)'><text x='0' y='0' text-anchor='end' font-size='18' fill='#1a1a1a' stroke='#1a1a1a' stroke-width='0.3'>2023.08.22</text><text x='0' y='23' text-anchor='end' font-size='18' fill='#1a1a1a' font-weight='400' style='letter-spacing:1.2px'>미디어리서치</text></g>
<g transform='translate(279.2,1333) rotate(-45)'><text x='0' y='0' text-anchor='end' font-size='18' fill='#1a1a1a' stroke='#1a1a1a' stroke-width='0.3'>2023.09.05</text><text x='0' y='23' text-anchor='end' font-size='18' fill='#1a1a1a' font-weight='400' style='letter-spacing:1.2px'>미디어리서치</text></g>
<g transform='translate(325.0,1333) rotate(-45)'><text x='0' y='0' text-anchor='end' font-size='18' fill='#1a1a1a' stroke='#1a1a1a' stroke-width='0.3'>2023.09.19</text><text x='0' y='23' text-anchor='end' font-size='18' fill='#1a1a1a' font-weight='400' style='letter-spacing:1.2px'>미디어리서치</text></g>
<g transform='translate(370.7,1333) rotate(-45)'><text x='0' y='0' text-anchor='end' font-size='18' fill='#1a1a1a' stroke='#1a1a1a' stroke-width='0.3'>2023.10.03</text><text x='0' y='23' text-anchor='end' font-size='18' fill='#1a1a1a' font-weight='400' style='letter-spacing:1.2px'>미디어리서치</text></g>
<g transform='translate(416.4,1333) rotate(-45)'><text x='0' y='0' text-anchor='end' font-size='18' fill='#1a1a1a' stroke='#1a1a1a' stroke-width='0.3'>2023.10.17</text><text x='0' y='23' text-anchor='end' font-size='18' fill='#1a1a1a' font-weight='400' style='letter-spacing:1.2px'>미디어리서치</text></g>
<g transform='translate(462.1,1333) rotate(-45)'><text x='0' y='0' text-anchor='end' font-size='18' fill='#1a1a1a' stroke='#1a1a1a' stroke-width='0.3'>2023.10.31</text><text x='0' y='23' text-anchor='end' font-size='18' fill='#1a1a1a' font-weight='400' style='letter-spacing:1.2px'>미디어리서치</text></g>
<g transform='translate(507.8,1333) rotate(-45)'><text x='0' y='0' text-anchor='end' font-size='18' fill='#1a1a1a' stroke='#1a1a1a' stroke-width='0.3'>2023.11.14</text><text x='0' y='23' text-anchor='end' font-size='18' fill='#1a1a1a' font-weight='400' style='letter-spacing:1.2px'>미디어리서치</text></g>
<g transform='translate(553.6,1333) rotate(-45)'><text x='0' y='0' text-anchor='end' font-size='18' fill='#1a1a1a' stroke='#1a1a1a' stroke-width='0.3'>2023.11.28</text><text x='0' y='23' text-anchor='end' font-size='18' fill='#1a1a1a' font-weight='400' style='letter-spacing:1.2px'>미디어리서치</text></g>
<g transform='translate(599.3,1333) rotate(-45)'><text x='0' y='0' text-anchor='end' font-size='18' fill='#1a1a1a' stroke='#1a1a1a' stroke-width='0.3'>2023.12.12</text><text x='0' y='23' text-anchor='end' font-size='18' fill='#1a1a1a' font-weight='400' style='letter-spacing:1.2px'>미디어리서치</text></g>
<g transform='translate(645.0,1333) rotate(-45)'><text x='0' y='0' text-anchor='end' font-size='18' fill='#1a1a1a' stroke='#1a1a1a' stroke-width='0.3'>2023.12.26</text><text x='0' y='23' text-anchor='end' font-size='18' fill='#1a1a1a' font-weight='400' style='letter-spacing:1.2px'>미디어리서치</text></g>
<g transform='translate(690.7,1333) rotate(-45)'><text x='0' y='0' text-anchor='end' font-size='18' fill='#1a1a1a' stroke='#1a1a1a' stroke-width='0.3'>2024.01.09</text><text x='0' y='23' text-anchor='end' font-size='18' fill='#1a1a1a' font-weight='400' style='letter-spacing:1.2px'>미디어리서치</text></g>
<g transform='translate(736.4,1333) rotate(-45)'><text x='0' y='0' text-anchor='end' font-size='18' fill='#1a1a1a' stroke='#1a1a1a' stroke-width='0.3'>2024.01.23</text><text x='0' y='23' text-anchor='end' font-size='18' fill='#1a1a1a' font-weight='400' style='letter-spacing:1.2px'>미디어리서치</text></g>
<g transform='translate(782.2,1333) rotate(-45)'><text x='0' y='0' text-anchor='end' font-size='18' fill='#1a1a1a' stroke='#1a1a1a' stroke-width='0.3'>2024.02.06</text><text x='0' y='23' text-anchor='end' font-size='18' fill='#1a1a1a' font-weight='400' style='letter-spacing:1.2px'>미디어리서치</text></g>
<g transform='translate(827.9,1333) rotate(-45)'><text x='0' y='0' text-anchor='end' font-size='18' fill='#1a1a1a' stroke='#1a1a1a' stroke-width='0.3'>2024.02.20</text><text x='0' y='23' text-anchor='end' font-size='18' fill='#1a1a1a' font-weight='400' style='letter-spacing:1.2px'>미디어리서치</text></g>
<g transform='translate(873.6,1333) rotate(-45)'><text x='0' y='0' text-anchor='end' font-size='18' fill='#1a1a1a' stroke='#1a1a1a' stroke-width='0.3'>2024.03.05</text><text x='0' y='23' text-anchor='end' font-size='18' fill='#1a1a1a' font-weight='400' style='letter-spacing:1.2px'>미디어리서치</text></g>
<g transform='translate(919.3,1333) rotate(-45)'><text x='0' y='0' text-anchor='end' font-size='18' fill='#1a1a1a' stroke='#1a1a1a' stroke-width='0.3'>2024.03.19</text><text x='0' y='23' text-anchor='end' font-size='18' fill='#1a1a1a' font-weight='400' style='letter-spacing:1.2px'>미디어리서치</text></g>
<g transform='translate(965.0,1333) rotate(-45)'><text x='0' y='0' text-anchor='end' font-size='18' fill='#1a1a1a' stroke='#1a1a1a' stroke-width='0.3'>2024.04.02</text><text x='0' y='23' text-anchor='end' font-size='18' fill='#1a1a1a' font-weight='400' style='letter-spacing:1.2px'>미디어리서치</text></g>
<g transform='translate(1010.8,1333) rotate(-45)'><text x='0' y='0' text-anchor='end' font-size='18' fill='#1a1a1a' stroke='#1a1a1a' stroke-width='0.3'>2024.04.16</text><text x='0' y='23' text-anchor='end' font-size='18' fill='#1a1a1a' font-weight='400' style='letter-spacing:1.2px'>미디어리서치</text></g>
<g transform='translate(1056.5,1333) rotate(-45)'><text x='0' y='0' text-anchor='end' font-size='18' fill='#1a1a1a' stroke='#1a1a1a' stroke-width='0.3'>2024.04.30</text><text x='0' y='23' text-anchor='end' font-size='18' fill='#1a1a1a' font-weight='400' style='letter-spacing:1.2px'>미디어리서치</text></g>
<g transform='translate(1102.2,1333) rotate(-45)'><text x='0' y='0' text-anchor='end' font-size='18' fill='#1a1a1a' stroke='#1a1a1a' stroke-width='0.3'>2024.05.14</text><text x='0' y='23' text-anchor='end' font-size='18' fill='#1a1a1a' font-weight='400' style='letter-spacing:1.2px'>미디어리서치</text></g>
<g transform='translate(1147.9,1333) rotate(-45)'><text x='0' y='0' text-anchor='end' font-size='18' fill='#1a1a1a' stroke='#1a1a1a' stroke-width='0.3'>2024.05.28</text><text x='0' y='23' text-anchor='end' font-size='18' fill='#1a1a1a' font-weight='400' style='letter-spacing:1.2px'>미디어리서치</text></g>
<g transform='translate(1193.6,1333) rotate(-45)'><text x='0' y='0' text-anchor='end' font-size='18' fill='#1a1a1a' stroke='#1a1a1a' stroke-width='0.3'>2024.06.11</text><text x='0' y='23' text-anchor='end' font-size='18' fill='#1a1a1a' font-weight='400' style='letter-spacing:1.2px'>미디어리서치</text></g>
<line x1='1250.5' x2='1271.5' y1='1181' y2='1181' stroke='#1a8fca' stroke-width='7.5' stroke-linecap='round'/><circle cx='1261' cy='1181' r='3' fill='#fff'/>
<text x='1285' y='1188.6' font-size='23.5' fill='#333' font-weight='400'>긍정평가</text>
<line x1='1250.5' x2='1271.5' y1='1218' y2='1218' stroke='#d9283f' stroke-width='7.5' stroke-linecap='round'/><circle cx='1261' cy='1218' r='3' fill='#fff'/>
<text x='1285' y='1225.6' font-size='23.5' fill='#333' font-weight='400'>부정평가</text>
<rect x='1320' y='955.5' width='49' height='49.5' rx='4' fill='#fff'/>
<line x1='1332.5' x2='1357' y1='972' y2='972' stroke='#666' stroke-width='5' stroke-linecap='round'/>
<line x1='1332.5' x2='1357' y1='981' y2='981' stroke='#666' stroke-width='5' stroke-linecap='round'/>
<line x1='1332.5' x2='1357' y1='990' y2='990' stroke='#666' stroke-width='5' stroke-linecap='round'/>
</svg>
</body></html>
